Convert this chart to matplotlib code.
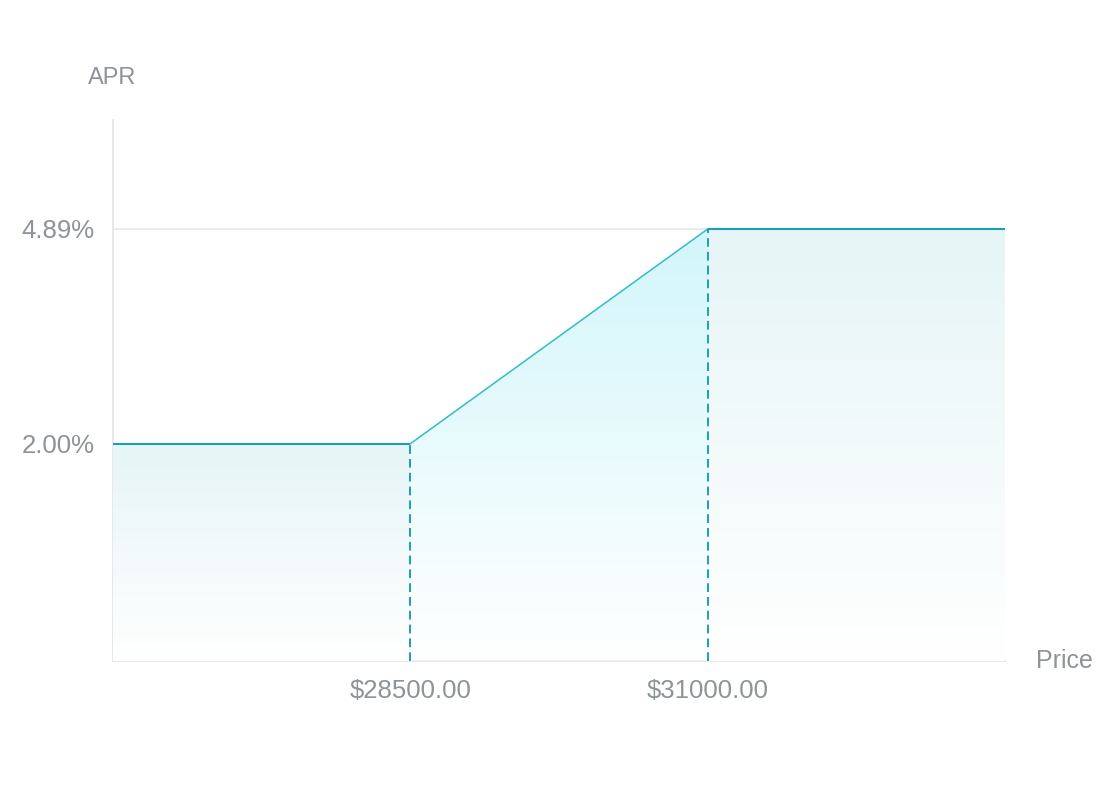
import matplotlib
matplotlib.use("Agg")
import matplotlib.pyplot as plt
import numpy as np
from matplotlib.patches import Polygon

# Data
x_idx = [0, 1, 2, 3]
apr = [2.00, 2.00, 4.89, 4.89]
tick_pos = [1, 2]
tick_labels = ["$28500.00", "$31000.00"]
ytick_vals = [2.00, 4.89]
ytick_labels = ["2.00%", "4.89%"]

plt.rcParams['font.family'] = ['Liberation Sans', 'DejaVu Sans']
TXT = '#8e9398'
FLAT = '#1aa0b1'
SLOPE = '#30bcc9'
GRID = '#e8e8e8'

fig = plt.figure(figsize=(11.18, 8.0), dpi=100)
ax = fig.add_axes([113/1118, 1-660.5/800, (1005.5-113)/1118, (660.5-119.5)/800])
ymin, ymax = -0.918, 6.36
ax.set_xlim(0, 3)
ax.set_ylim(ymin, ymax)

def grad_fill(xs, ys, top_color, ytop):
    verts = [(xs[0], ymin)] + list(zip(xs, ys)) + [(xs[-1], ymin)]
    poly = Polygon(verts, closed=True, facecolor='none', edgecolor='none')
    ax.add_patch(poly)
    n = 256
    c = np.array(matplotlib.colors.to_rgb(top_color))
    t = np.linspace(0, 1, n)[:, None]
    img = (1 - t) * c + t * np.array([1, 1, 1])
    img = img[:, None, :]
    im = ax.imshow(img, extent=[xs[0], xs[-1], ymin, ytop], origin='upper',
                   aspect='auto', zorder=1, interpolation='bilinear')
    im.set_clip_path(poly)

# gridlines
for v in ytick_vals:
    ax.axhline(v, color=GRID, lw=1.2, zorder=0.5)

grad_fill([x_idx[0], x_idx[1]], [apr[0], apr[1]], '#e6f5f6', apr[1])
grad_fill([x_idx[1], x_idx[2]], [apr[1], apr[2]], '#d2f6fb', apr[2])
grad_fill([x_idx[2], x_idx[3]], [apr[2], apr[3]], '#e6f5f6', apr[3])

ax.plot(x_idx[0:2], apr[0:2], color=FLAT, lw=1.5, zorder=3, solid_capstyle='butt')
ax.plot(x_idx[1:3], apr[1:3], color=SLOPE, lw=1.1, zorder=3)
ax.plot(x_idx[2:4], apr[2:4], color=FLAT, lw=1.5, zorder=3, solid_capstyle='butt')

for i in tick_pos:
    ax.plot([x_idx[i], x_idx[i]], [ymin, apr[i]], color=FLAT, lw=1.4,
            linestyle=(0, (4.5, 2.6)), zorder=3)

for s in ['top', 'right']:
    ax.spines[s].set_visible(False)
for s in ['left', 'bottom']:
    ax.spines[s].set_color(GRID)
    ax.spines[s].set_linewidth(1.5)
    ax.spines[s].set_zorder(0.6)

ax.set_xticks(tick_pos)
ax.set_xticklabels(tick_labels)
ax.set_yticks(ytick_vals)
ax.set_yticklabels(ytick_labels)
ax.tick_params(axis='both', length=0, labelsize=18.5, colors=TXT)
ax.tick_params(axis='x', pad=13)
ax.tick_params(axis='y', pad=13)

fig.text(88/1118, 1-78/800, "APR", fontsize=17, color=TXT, ha='left', va='center')
fig.text(1036/1118, 1-661/800, "Price", fontsize=18, color=TXT, ha='left', va='center')

fig.savefig("out.png", dpi=100, facecolor='white')
